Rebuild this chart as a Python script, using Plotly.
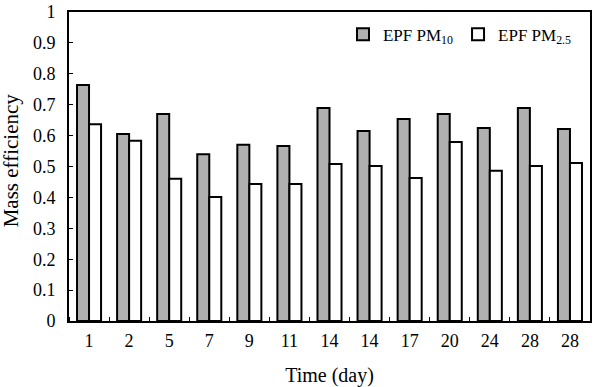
import plotly.graph_objects as go

days = ["1", "2", "5", "7", "9", "11", "14", "14", "17", "20", "24", "28", "28"]
pm10 = [0.764, 0.605, 0.670, 0.540, 0.570, 0.566, 0.689, 0.615, 0.654, 0.670, 0.625, 0.689, 0.621]
pm25 = [0.637, 0.583, 0.460, 0.401, 0.443, 0.443, 0.508, 0.502, 0.463, 0.579, 0.486, 0.502, 0.511]
series_names = ["EPF PM<sub>10</sub>", "EPF PM<sub>2.5</sub>"]
y_title = "Mass efficiency"
x_title = "Time (day)"

idx = list(range(len(days)))
font = "Liberation Serif, Times New Roman, serif"

fig = go.Figure()
fig.add_bar(x=idx, y=pm10, name=series_names[0],
            marker=dict(color="#b0b0b0", line=dict(color="black", width=2)))
fig.add_bar(x=idx, y=pm25, name=series_names[1],
            marker=dict(color="white", line=dict(color="black", width=2)))

fig.update_layout(
    width=597, height=387,
    margin=dict(l=69, r=7, t=12, b=66),
    paper_bgcolor="white", plot_bgcolor="white",
    barmode="group", bargap=0.4, bargroupgap=0,
    font=dict(family=font, size=18, color="black"),
    legend=dict(orientation="h", x=0.975, xanchor="right", y=0.985, yanchor="top",
                font=dict(size=17), bgcolor="rgba(0,0,0,0)", itemwidth=30,
                tracegroupgap=0),
    showlegend=True,
)
fig.add_annotation(text=y_title, xref="paper", yref="paper",
                   x=(11 - 69) / 521, y=0.52, xanchor="center", yanchor="middle",
                   textangle=-90, showarrow=False, font=dict(size=21),
                   borderpad=0)
fig.update_xaxes(
    range=[-0.5, len(days) - 0.5], automargin=False,
    tickmode="array", tickvals=idx, ticktext=days,
    ticks="", showgrid=False, zeroline=False,
    showline=True, linecolor="black", linewidth=2, mirror=True,
    minor=dict(ticks="inside", tick0=-0.5, dtick=1, ticklen=4, tickcolor="black", showgrid=False),
    title=dict(text=x_title, font=dict(size=20), standoff=23),
    ticklabelstandoff=2,
)
fig.update_yaxes(
    range=[0, 1], dtick=0.1, tick0=0, automargin=False,
    ticks="inside", ticklen=4, tickcolor="black",
    showgrid=False, zeroline=False,
    showline=True, linecolor="black", linewidth=2, mirror=True,
    ticklabelstandoff=8,
)
fig.write_html("out.html")
